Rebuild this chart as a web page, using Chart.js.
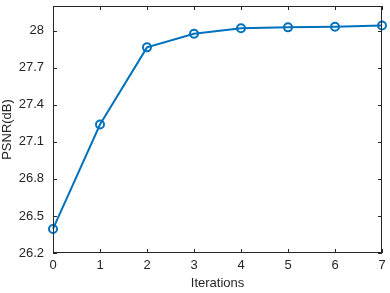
<!DOCTYPE html>
<html>
<head>
<meta charset="utf-8">
<script src="https://cdn.jsdelivr.net/npm/chart.js@4/dist/chart.umd.min.js"></script>
<style>
html,body{margin:0;padding:0;background:#fff;}
#wrap{width:390px;height:293px;}
</style>
</head>
<body>
<div id="wrap"><canvas id="c" width="390" height="293"></canvas></div>
<script>
const iterations = [0, 1, 2, 3, 4, 5, 6, 7];
const psnr = [26.395, 27.24, 27.865, 27.975, 28.02, 28.027, 28.032, 28.042];
const yTicks = [26.2, 26.5, 26.8, 27.1, 27.4, 27.7, 28];
const xTicks = [0, 1, 2, 3, 4, 5, 6, 7];

const axisColor = '#262626';
const lineColor = '#0072BD';
const fontFamily = '"Liberation Sans", Arial, Helvetica, sans-serif';

const boxTicks = {
  id: 'boxTicks',
  afterDraw(chart) {
    const {ctx, chartArea: a, scales} = chart;
    ctx.save();
    ctx.strokeStyle = axisColor;
    ctx.lineWidth = 1;
    ctx.strokeRect(Math.round(a.left) + 0.5, Math.round(a.top) + 0.5,
                   Math.round(a.right - a.left) - 1, Math.round(a.bottom - a.top) - 1);
    const L = 4;
    ctx.beginPath();
    scales.x.ticks.forEach((t, i) => {
      const px = Math.round(scales.x.getPixelForTick(i)) + 0.5;
      ctx.moveTo(px, a.bottom); ctx.lineTo(px, a.bottom - L);
      ctx.moveTo(px, a.top); ctx.lineTo(px, a.top + L);
    });
    scales.y.ticks.forEach((t, i) => {
      const py = Math.round(scales.y.getPixelForTick(i)) + 0.5;
      ctx.moveTo(a.left, py); ctx.lineTo(a.left + L, py);
      ctx.moveTo(a.right, py); ctx.lineTo(a.right - L, py);
    });
    ctx.stroke();
    ctx.restore();
  }
};

function zeroPad(s) { s.paddingTop = 0; s.paddingBottom = 0; s.paddingLeft = 0; s.paddingRight = 0; }

new Chart(document.getElementById('c'), {
  type: 'line',
  data: {
    datasets: [{
      data: iterations.map((x, i) => ({x: x, y: psnr[i]})),
      borderColor: lineColor,
      borderWidth: 2,
      pointRadius: 4,
      pointBorderWidth: 2,
      pointBackgroundColor: 'rgba(0,0,0,0)',
      pointBorderColor: lineColor,
      tension: 0,
      clip: false
    }]
  },
  options: {
    responsive: false,
    animation: false,
    devicePixelRatio: 1,
    layout: {padding: {top: 5, right: 8, left: 0, bottom: 0}},
    plugins: {legend: {display: false}, tooltip: {enabled: false}},
    scales: {
      x: {
        type: 'linear',
        min: 0, max: 7,
        afterBuildTicks: s => { s.ticks = xTicks.map(v => ({value: v})); },
        afterFit: s => { s.height = 40; zeroPad(s); },
        grid: {display: false, drawTicks: false},
        border: {display: false},
        ticks: {color: axisColor, padding: 5, font: {family: fontFamily, size: 13}, maxRotation: 0, autoSkip: false},
        title: {display: true, text: 'Iterations', color: axisColor, font: {family: fontFamily, size: 13}, padding: {top: 0, bottom: 2}}
      },
      y: {
        type: 'linear',
        min: 26.2, max: 28.2,
        afterBuildTicks: s => { s.ticks = yTicks.map(v => ({value: v})); },
        afterFit: s => { s.width = 53; zeroPad(s); },
        grid: {display: false, drawTicks: false},
        border: {display: false},
        ticks: {color: axisColor, padding: 9, font: {family: fontFamily, size: 13}, autoSkip: false,
                callback: v => String(Math.round(v * 10) / 10)},
        title: {display: true, text: 'PSNR(dB)', color: axisColor, font: {family: fontFamily, size: 13}, padding: {top: 0, bottom: 0}}
      }
    }
  },
  plugins: [boxTicks]
});
</script>
</body>
</html>
